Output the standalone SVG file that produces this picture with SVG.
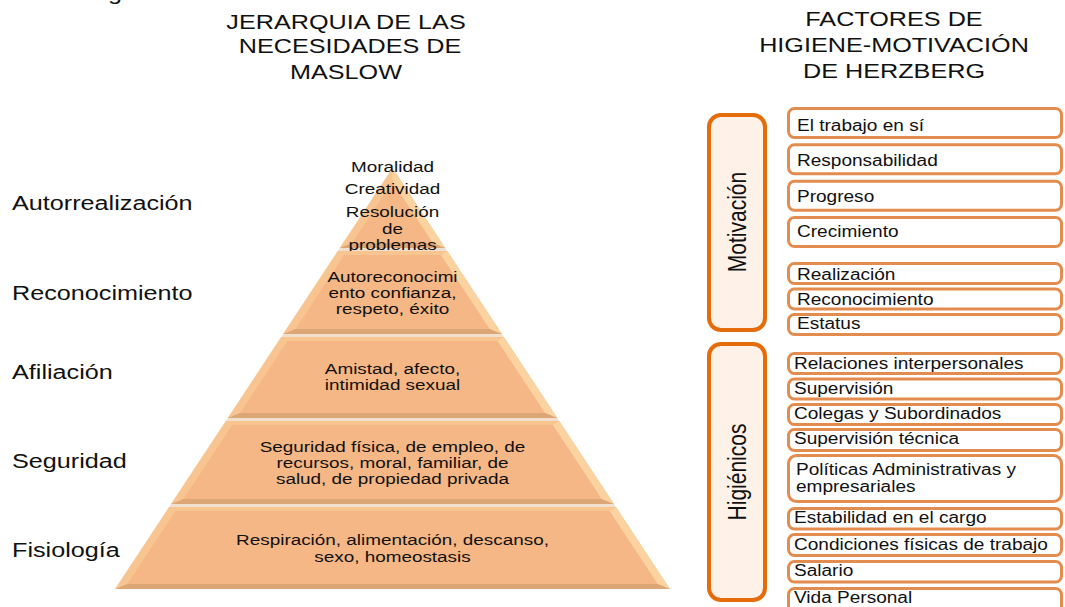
<svg xmlns="http://www.w3.org/2000/svg" width="1065" height="607" viewBox="0 0 1065 607">
<style>
.t{font-family:"Liberation Sans",Arial,sans-serif;fill:#111}
.h{font-size:21px;text-anchor:middle}
.l{font-size:21px}
.p{font-size:15px;text-anchor:middle}
.i{font-size:16px}
.r{font-size:21px;text-anchor:middle}
.ob{fill:#F8C591}
.rb{fill:#FAD3A0}
.bb{fill:#DCA676}
.in{fill:#F5B785}
.big{fill:#FDF1E8;stroke:#E46C0A;stroke-width:4}
.item{fill:#fff;stroke:#E38C4F;stroke-width:3}
</style>
<rect width="1065" height="607" fill="#fff"/>
<text class="t l" transform="translate(108 0) scale(1.2 1)">g</text>
<g id="maslow-title">
<text class="t h" transform="translate(346 29) scale(1.2 1)">JERARQUIA DE LAS</text>
<text class="t h" transform="translate(350 53) scale(1.2 1)">NECESIDADES DE</text>
<text class="t h" transform="translate(346 79) scale(1.2 1)">MASLOW</text>
</g>
<g id="herzberg-title">
<text class="t h" transform="translate(894 26) scale(1.2 1)">FACTORES DE</text>
<text class="t h" transform="translate(894 52) scale(1.2 1)">HIGIENE-MOTIVACIÓN</text>
<text class="t h" transform="translate(894 78) scale(1.2 1)">DE HERZBERG</text>
</g>
<g id="level-labels">
<text class="t l" transform="translate(12 210) scale(1.2 1)">Autorrealización</text>
<text class="t l" transform="translate(12 300) scale(1.2 1)">Reconocimiento</text>
<text class="t l" transform="translate(12 379) scale(1.2 1)">Afiliación</text>
<text class="t l" transform="translate(12 468) scale(1.2 1)">Seguridad</text>
<text class="t l" transform="translate(12 557) scale(1.2 1)">Fisiología</text>
</g>
<polygon points="392.5,168 669.9,589 115.1,589" fill="#F1E0CE"/>
<g id="level-1">
<polygon class="ob" points="392.5,168 445.2,248 339.8,248"/>
<polygon class="rb" points="392.5,168 445.2,248 432.9,243 392.5,182"/>
<polygon class="bb" points="339.8,248 445.2,248 432.9,243 352.1,243"/>
<polygon class="in" points="392.5,182 432.9,243 352.1,243"/>
<text class="t p" transform="translate(392.5 172) scale(1.26 1)">Moralidad</text>
<text class="t p" transform="translate(392.5 194) scale(1.26 1)">Creatividad</text>
<text class="t p" transform="translate(392.5 217) scale(1.26 1)">Resolución</text>
<text class="t p" transform="translate(392.5 233.5) scale(1.26 1)">de</text>
<text class="t p" transform="translate(392.5 250) scale(1.26 1)">problemas</text>
</g>
<g id="level-2">
<polygon class="ob" points="337.8,251 447.2,251 501.9,334 283.1,334"/>
<polygon class="rb" points="447.2,251 501.9,334 489.6,329 440.8,255"/>
<polygon class="bb" points="283.1,334 501.9,334 489.6,329 295.4,329"/>
<polygon class="in" points="344.2,255 440.8,255 489.6,329 295.4,329"/>
<text class="t p" transform="translate(392.5 282) scale(1.26 1)">Autoreconocimi</text>
<text class="t p" transform="translate(392.5 298) scale(1.26 1)">ento confianza,</text>
<text class="t p" transform="translate(392.5 314) scale(1.26 1)">respeto, éxito</text>
</g>
<g id="level-3">
<polygon class="ob" points="281.1,337 503.9,337 557.2,418 227.8,418"/>
<polygon class="rb" points="503.9,337 557.2,418 545,413 497.5,341"/>
<polygon class="bb" points="227.8,418 557.2,418 545,413 240,413"/>
<polygon class="in" points="287.5,341 497.5,341 545,413 240,413"/>
<text class="t p" transform="translate(392.5 374) scale(1.26 1)">Amistad, afecto,</text>
<text class="t p" transform="translate(392.5 390) scale(1.26 1)">intimidad sexual</text>
</g>
<g id="level-4">
<polygon class="ob" points="225.8,421 559.2,421 613.9,504 171.1,504"/>
<polygon class="rb" points="559.2,421 613.9,504 601.6,499 552.8,425"/>
<polygon class="bb" points="171.1,504 613.9,504 601.6,499 183.4,499"/>
<polygon class="in" points="232.2,425 552.8,425 601.6,499 183.4,499"/>
<text class="t p" transform="translate(392.5 452) scale(1.26 1)">Seguridad física, de empleo, de</text>
<text class="t p" transform="translate(392.5 468) scale(1.26 1)">recursos, moral, familiar, de</text>
<text class="t p" transform="translate(392.5 484) scale(1.26 1)">salud, de propiedad privada</text>
</g>
<g id="level-5">
<polygon class="ob" points="169.1,507 615.9,507 669.9,589 115.1,589"/>
<polygon class="rb" points="615.9,507 669.9,589 657.6,584 609.5,511"/>
<polygon class="bb" points="115.1,589 669.9,589 657.6,584 127.4,584"/>
<polygon class="in" points="175.5,511 609.5,511 657.6,584 127.4,584"/>
<text class="t p" transform="translate(392.5 545) scale(1.26 1)">Respiración, alimentación, descanso,</text>
<text class="t p" transform="translate(392.5 562) scale(1.26 1)">sexo, homeostasis</text>
</g>
<g id="motivacion">
<rect class="big" x="709" y="115" width="56" height="215" rx="12"/>
<text class="t r" transform="translate(737 222) scale(1.2 1) rotate(-90)" y="7.5">Motivación</text>
</g>
<g id="higienicos">
<rect class="big" x="709" y="344" width="56" height="256" rx="12"/>
<text class="t r" transform="translate(737 472) scale(1.2 1) rotate(-90)" y="7.5">Higiénicos</text>
</g>
<g id="motivation-factors">
<g id="m1"><rect class="item" x="788.5" y="108.5" width="273" height="29" rx="6"/><text class="t i" transform="translate(797 131) scale(1.19 1)">El trabajo en sí</text></g>
<g id="m2"><rect class="item" x="788.5" y="144.8" width="273" height="29" rx="6"/><text class="t i" transform="translate(797 166) scale(1.19 1)">Responsabilidad</text></g>
<g id="m3"><rect class="item" x="788.5" y="181.2" width="273" height="29" rx="6"/><text class="t i" transform="translate(797 202) scale(1.19 1)">Progreso</text></g>
<g id="m4"><rect class="item" x="788.5" y="217.5" width="273" height="29" rx="6"/><text class="t i" transform="translate(797 237) scale(1.19 1)">Crecimiento</text></g>
<g id="m5"><rect class="item" x="788.5" y="263.5" width="273" height="20" rx="6"/><text class="t i" transform="translate(797 280) scale(1.19 1)">Realización</text></g>
<g id="m6"><rect class="item" x="788.5" y="289" width="273" height="20" rx="6"/><text class="t i" transform="translate(797 305) scale(1.19 1)">Reconocimiento</text></g>
<g id="m7"><rect class="item" x="788.5" y="314.5" width="273" height="20" rx="6"/><text class="t i" transform="translate(797 329) scale(1.19 1)">Estatus</text></g>
</g>
<g id="hygiene-factors">
<g id="h1"><rect class="item" x="788.5" y="353.5" width="273" height="20" rx="6"/><text class="t i" transform="translate(794 369) scale(1.19 1)">Relaciones interpersonales</text></g>
<g id="h2"><rect class="item" x="788.5" y="379" width="273" height="20" rx="6"/><text class="t i" transform="translate(794 394) scale(1.19 1)">Supervisión</text></g>
<g id="h3"><rect class="item" x="788.5" y="404.5" width="273" height="20" rx="6"/><text class="t i" transform="translate(794 419) scale(1.19 1)">Colegas y Subordinados</text></g>
<g id="h4"><rect class="item" x="788.5" y="429.5" width="273" height="21" rx="6"/><text class="t i" transform="translate(794 444) scale(1.19 1)">Supervisión técnica</text></g>
<g id="h5"><rect class="item" x="788.5" y="455.5" width="273" height="46" rx="8"/><text class="t i" transform="translate(796 475) scale(1.19 1)">Políticas Administrativas y</text><text class="t i" transform="translate(796 492) scale(1.19 1)">empresariales</text></g>
<g id="h6"><rect class="item" x="788.5" y="508.5" width="273" height="20.5" rx="6"/><text class="t i" transform="translate(794 523) scale(1.19 1)">Estabilidad en el cargo</text></g>
<g id="h7"><rect class="item" x="788.5" y="534.5" width="273" height="21" rx="6"/><text class="t i" transform="translate(794 550) scale(1.19 1)">Condiciones físicas de trabajo</text></g>
<g id="h8"><rect class="item" x="788.5" y="561.5" width="273" height="20.5" rx="6"/><text class="t i" transform="translate(794 576) scale(1.19 1)">Salario</text></g>
<g id="h9"><rect class="item" x="788.5" y="588.5" width="273" height="40" rx="6"/><text class="t i" transform="translate(794 603) scale(1.19 1)">Vida Personal</text></g>
</g>
<g id="connectors"/>
</svg>
